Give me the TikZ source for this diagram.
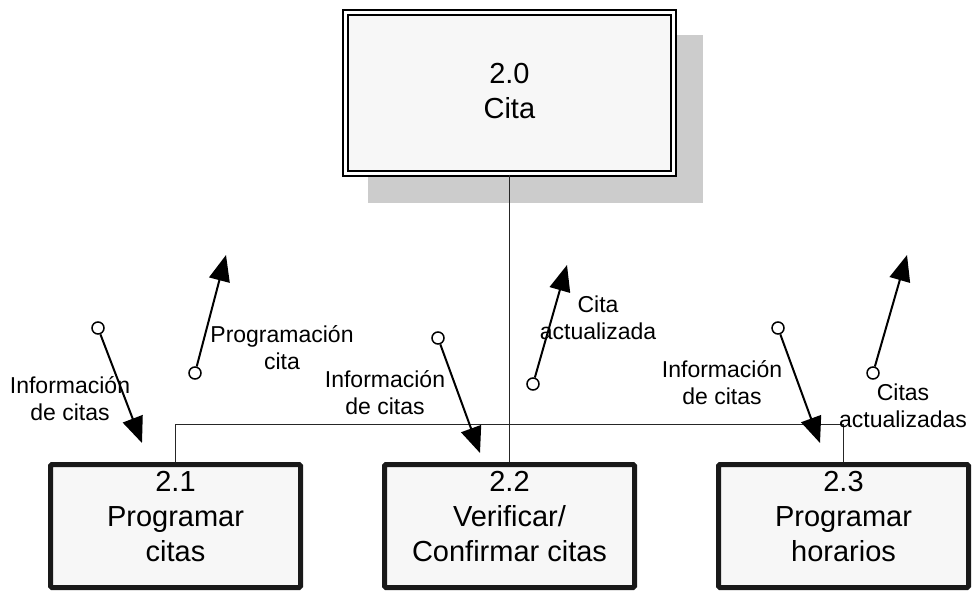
\documentclass[tikz,border=0pt]{standalone}
\usepackage{fontspec}
\setmainfont{Liberation Sans}
\usetikzlibrary{arrows.meta}
\begin{document}
\begin{tikzpicture}[x=1pt,y=-1pt,
  procbox/.style={draw=black!90, line width=5pt, rounded corners=1.5pt, fill=black!3, minimum width=250pt, minimum height=123pt, inner sep=0pt},
  mainbox/.style={draw, line width=2pt, double=white, double distance=3pt, fill=black!3, minimum width=328pt, minimum height=161pt, inner sep=0pt},
  boxtext/.style={align=center, font=\fontsize{29}{35}\selectfont, inner sep=0pt},
  flowlabel/.style={align=center, font=\fontsize{23}{27}\selectfont, inner sep=0pt},
  tailcirc/.style={circle, draw, line width=1.5pt, fill=white, minimum size=12pt, inner sep=0pt},
  flow/.style={line width=2pt, -{Triangle[length=26pt,width=21pt]}},
  link/.style={line width=1pt, black!85}]
\useasboundingbox (0,0) rectangle (973,591);

% shadow and main process
\fill[black!20] (368,35) rectangle (703,203);
\node[mainbox] (top) at (509.4,93) {};
\node[boxtext] (toptext) at ([yshift=2pt]top.center) {2.0\\Cita};

% sub-processes
\node[procbox] (b1) at (175.5,526) {};
\node[procbox] (b2) at (509.5,526) {};
\node[procbox] (b3) at (843.5,526) {};
\node[boxtext] (b1t) at ([yshift=9pt]b1.center) {2.1\\Programar\\citas};
\node[boxtext] (b2t) at ([yshift=9pt]b2.center) {2.2\\Verificar/\\Confirmar citas};
\node[boxtext] (b3t) at ([yshift=9pt]b3.center) {2.3\\Programar\\horarios};

% connectors
\coordinate (bus) at (0,424);
\draw[link] (top.south) -- (top.south |- b2.north);
\draw[link] (b1.north) -- (b1.north |- bus) -- (b3.north |- bus) -- (b3.north);

% data flows
\node[tailcirc] (c1) at (98,328) {};
\coordinate (t1) at (142,443);
\draw[flow] (c1) -- (t1);
\node[tailcirc] (c2) at (195,373) {};
\coordinate (t2) at (226,255);
\draw[flow] (c2) -- (t2);
\node[tailcirc] (c3) at (438,338) {};
\coordinate (t3) at (480,453);
\draw[flow] (c3) -- (t3);
\node[tailcirc] (c4) at (533,384) {};
\coordinate (t4) at (567,265);
\draw[flow] (c4) -- (t4);
\node[tailcirc] (c5) at (778,328) {};
\coordinate (t5) at (820,443);
\draw[flow] (c5) -- (t5);
\node[tailcirc] (c6) at (873,373) {};
\coordinate (t6) at (907,255);
\draw[flow] (c6) -- (t6);

% labels
\node[flowlabel] (l1) at (70,399) {Información\\de citas};
\node[flowlabel] (l2) at (282,348) {Programación\\cita};
\node[flowlabel] (l3) at (385,393) {Información\\de citas};
\node[flowlabel] (l4) at (598,318) {Cita\\actualizada};
\node[flowlabel] (l5) at (722,383) {Información\\de citas};
\node[flowlabel] (l6) at (903,406) {Citas\\actualizadas};
\end{tikzpicture}
\end{document}
